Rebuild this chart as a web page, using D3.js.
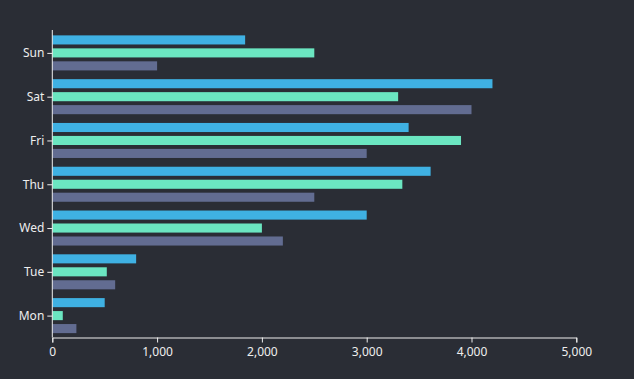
<!DOCTYPE html>
<html><head><meta charset="utf-8">
<script src="https://cdn.jsdelivr.net/npm/d3@7"></script>
<style>html,body{margin:0;padding:0;background:#2a2d35;}svg{display:block;}</style>
</head><body>
<script>
const categories = ["Mon","Tue","Wed","Thu","Fri","Sat","Sun"];
const seriesNames = ["A","B","C"];
const seriesA = [500, 800, 3000, 3610, 3400, 4200, 1840];
const seriesB = [100, 520, 2000, 3340, 3900, 3300, 2500];
const seriesC = [230, 600, 2200, 2500, 3000, 4000, 1000];
const xTicks = [0, 1000, 2000, 3000, 4000, 5000];
const colors = ["#3fb1e3", "#6be6c1", "#626c91"];

(function () {
const W = 634, H = 379;
const mLeft = 52.3, mRight = 576.3, mTop = 30, mBottom = 337.5;
const svg = d3.select("body").append("svg").attr("width", W).attr("height", H);
svg.append("rect").attr("width", W).attr("height", H).attr("fill", "#2a2d35");

const x = d3.scaleLinear().domain([0, 5000]).range([mLeft, mRight]);
const y = d3.scaleBand().domain(categories.slice().reverse()).range([mTop + 1, mBottom]).paddingInner(0.2).paddingOuter(0.1);
const inner = d3.scaleBand().domain(seriesNames).range([0, y.bandwidth()]).paddingInner(0.3);

const data = [seriesA, seriesB, seriesC];
data.forEach((vals, si) => {
  svg.append("g").selectAll("rect").data(categories.map((c, i) => ({c, v: vals[i]})))
    .join("rect")
    .attr("x", x(0))
    .attr("y", d => y(d.c) + inner(seriesNames[si]))
    .attr("width", d => x(d.v) - x(0))
    .attr("height", inner.bandwidth())
    .attr("fill", colors[si]);
});

const font = "'Noto Sans', 'Open Sans', sans-serif";
const xAxis = svg.append("g").attr("transform", `translate(0,${mBottom})`)
  .call(d3.axisBottom(x).tickValues(xTicks).tickFormat(d3.format(",")).tickSize(5).tickPadding(5));
xAxis.select(".domain").attr("stroke", "#eeeeee");
xAxis.selectAll(".tick line").attr("stroke", "#eeeeee");
xAxis.selectAll("text").attr("fill", "#eeeeee").attr("font-size", 12).attr("font-family", font);

const yc = d3.scalePoint().domain(categories.slice().reverse()).range([mTop + 1 + y.step()/2, mBottom - y.step()/2]);
const yAxis = svg.append("g").attr("transform", `translate(${mLeft},0)`)
  .call(d3.axisLeft(yc).tickSize(5).tickPadding(3));
yAxis.select(".domain").attr("d", `M0,${mTop}V${mBottom}`).attr("stroke", "#eeeeee");
yAxis.selectAll(".tick line").attr("stroke", "#eeeeee");
yAxis.selectAll("text").attr("fill", "#eeeeee").attr("font-size", 12).attr("font-family", font);
})();
</script>
</body></html>
